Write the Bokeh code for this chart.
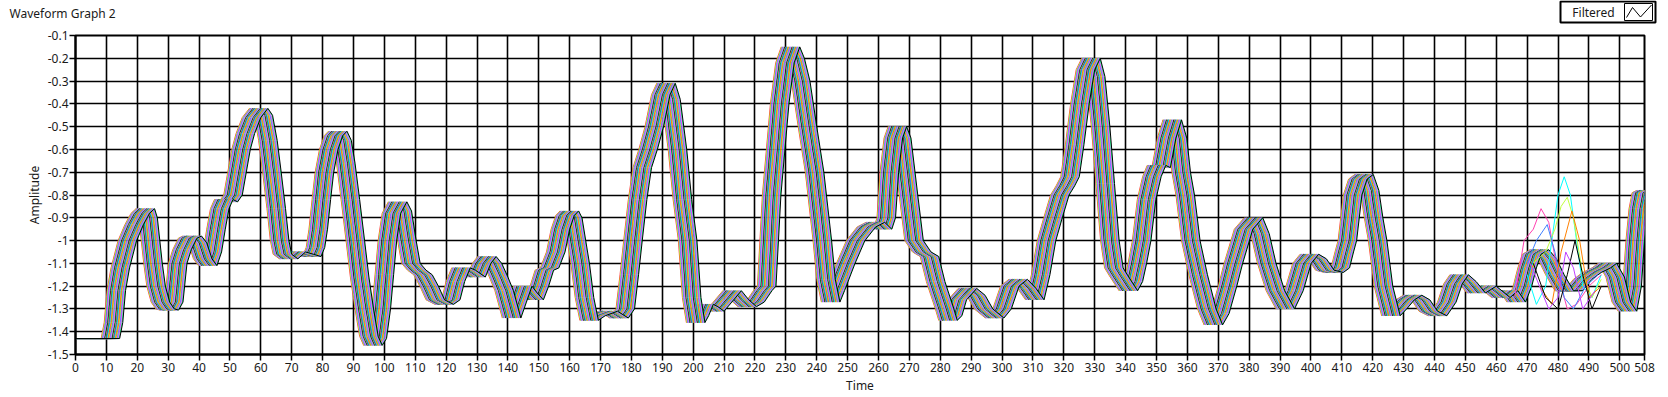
import numpy as np
from bokeh.plotting import figure
from bokeh.models import FixedTicker, CustomJSTickFormatter, Range1d
from bokeh.layouts import column
from bokeh.embed import file_html
from bokeh.resources import INLINE
from bokeh.core.properties import value

TITLE = "Waveform Graph 2"
LEGEND_LABEL = "Filtered"
X_LABEL = "Time"
Y_LABEL = "Amplitude"
X_TICKS = [0, 10, 20, 30, 40, 50, 60, 70, 80, 90, 100, 110, 120, 130, 140, 150, 160, 170, 180, 190,
           200, 210, 220, 230, 240, 250, 260, 270, 280, 290, 300, 310, 320, 330, 340, 350, 360, 370,
           380, 390, 400, 410, 420, 430, 440, 450, 460, 470, 480, 490, 500, 508]
Y_TICKS = [-1.5, -1.4, -1.3, -1.2, -1.1, -1.0, -0.9, -0.8, -0.7, -0.6, -0.5, -0.4, -0.3, -0.2, -0.1]

# centre of the bundle of filtered traces (time, amplitude)
BASE_T = [0, 11.3, 12.3, 13.2, 14.5, 16.8, 19, 21, 22.6, 23.5, 24.3, 25.1, 26.1, 27.5, 29, 30.4, 31.8,
          33.1, 34.5, 36.3, 37.8, 39.5, 41.2, 42.8, 44.3, 45.5, 46.7, 48, 49.5, 51, 52.3, 53.6, 55, 57,
          59.3, 60.8, 62.3, 63.6, 65, 66.1, 67, 69, 71.5, 74, 76.5, 77.7, 78.6, 79.6, 80.6, 82, 83.5,
          84.9, 86.3, 87.5, 89, 90.6, 92, 93.5, 95, 96.3, 97.7, 99, 100, 101, 102.3, 104.3, 105.8,
          107.3, 108.6, 110.5, 112.5, 114.5, 116.5, 119.4, 121.5, 123, 124.8, 126.5, 129.7, 131.5,
          133.2, 135, 137, 138.8, 141.2, 143, 144.8, 146.5, 148.5, 150.2, 151.8, 153.5, 155.5, 157,
          158.5, 159.9, 161, 162.2, 163.4, 164.8, 166.3, 168.5, 172.5, 176, 178, 179.3, 180.5, 182,
          183.5, 185.4, 187.4, 189.5, 191.2, 192.8, 194.9, 196.5, 198.2, 199.5, 200.8, 202, 203.5,
          205, 207, 209.5, 212.6, 215, 217.5, 220, 222.5, 223.8, 224.6, 225.4, 226.7, 228, 229.7,
          231.5, 233, 234.8, 237, 239.3, 241.8, 243, 244.5, 246, 249.4, 252.6, 256.1, 259, 261.3,
          262.5, 263.5, 264.8, 266.1, 267.5, 269.7, 271.5, 274, 276.5, 278.5, 281.4, 282.5, 284,
          285.5, 288.8, 291.5, 294, 297.6, 300, 302.5, 305.2, 308, 310.6, 312.5, 314.4, 316.5, 318.7,
          320.5, 322, 323.5, 325.2, 327, 328.8, 330.3, 331.9, 333.4, 334.9, 336.2, 338, 340.9, 342.5,
          343.8, 345.2, 346.8, 348.5, 350, 351.5, 353.3, 355.1, 356.8, 358, 359.3, 361.1, 363.5,
          366.3, 368.4, 370.5, 373, 374.9, 378.2, 381.4, 383.5, 385.7, 388.5, 391.7, 394.5, 397.1,
          399.5, 402, 404.5, 407.5, 409.5, 410.8, 411.8, 413.5, 415.2, 417.2, 419, 420.3, 421.6,
          423.5, 425.9, 428, 430.5, 432.9, 435.5, 438, 441, 444, 446, 448, 450.5, 453.5, 457, 461.5,
          464, 466.5, 468.5, 470, 471.5, 474, 476.5, 479, 482, 485, 488, 491, 494, 496, 498.5, 500.5,
          502.5, 504, 505, 506, 507, 508.5, 511]
BASE_V = [-1.43, -1.43, -1.36, -1.22, -1.12, -1.0, -0.93, -0.88, -0.86, -0.9, -1.0, -1.1, -1.2, -1.27,
          -1.3, -1.305, -1.27, -1.1, -1.04, -0.99, -0.98, -1.01, -1.08, -1.11, -1.05, -0.95, -0.86,
          -0.82, -0.83, -0.8, -0.7, -0.6, -0.53, -0.46, -0.42, -0.45, -0.56, -0.7, -0.86, -1.0, -1.06,
          -1.08, -1.05, -1.06, -1.07, -1.03, -0.95, -0.82, -0.7, -0.6, -0.54, -0.52, -0.56, -0.66,
          -0.82, -1.0, -1.16, -1.3, -1.42, -1.46, -1.43, -1.3, -1.15, -1.0, -0.88, -0.83, -0.87, -1.0,
          -1.1, -1.13, -1.15, -1.2, -1.26, -1.28, -1.26, -1.18, -1.12, -1.13, -1.16, -1.1, -1.07,
          -1.1, -1.16, -1.22, -1.34, -1.27, -1.2, -1.23, -1.26, -1.2, -1.13, -1.12, -1.05, -0.95,
          -0.89, -0.87, -0.9, -1.0, -1.1, -1.25, -1.35, -1.33, -1.31, -1.34, -1.3, -1.15, -1.0, -0.82,
          -0.68, -0.6, -0.5, -0.36, -0.31, -0.38, -0.6, -0.82, -1.0, -1.25, -1.36, -1.33, -1.28,
          -1.29, -1.31, -1.27, -1.22, -1.26, -1.29, -1.27, -1.22, -1.2, -1.0, -0.8, -0.6, -0.4,
          -0.22, -0.15, -0.2, -0.3, -0.5, -0.7, -1.0, -1.17, -1.27, -1.22, -1.1, -1.0, -0.94, -0.92,
          -0.95, -0.9, -0.7, -0.55, -0.5, -0.55, -0.8, -1.0, -1.05, -1.07, -1.18, -1.3, -1.35, -1.33,
          -1.26, -1.21, -1.24, -1.3, -1.34, -1.3, -1.2, -1.17, -1.21, -1.26, -1.15, -1.0, -0.9, -0.8,
          -0.76, -0.72, -0.58, -0.4, -0.25, -0.2, -0.28, -0.5, -0.75, -1.0, -1.12, -1.16, -1.22,
          -1.18, -1.1, -1.0, -0.82, -0.72, -0.67, -0.68, -0.55, -0.47, -0.55, -0.7, -0.8, -1.0,
          -1.15, -1.3, -1.37, -1.32, -1.2, -1.1, -0.95, -0.9, -0.97, -1.1, -1.22, -1.3, -1.22, -1.1,
          -1.06, -1.08, -1.13, -1.14, -1.12, -1.05, -1.0, -0.8, -0.73, -0.71, -0.78, -0.9, -1.0, -1.2,
          -1.33, -1.3, -1.26, -1.24, -1.26, -1.31, -1.33, -1.27, -1.19, -1.15, -1.18, -1.23, -1.2,
          -1.25, -1.22, -1.27, -1.2, -1.12, -1.06, -1.04, -1.08, -1.15, -1.22, -1.22, -1.17, -1.14,
          -1.12, -1.1, -1.16, -1.27, -1.31, -1.2, -1.0, -0.86, -0.79, -0.78, -0.82]

# time offset of each trace relative to the bundle centre
SHIFTS = [-3.0, -2.8, -2.6, -2.4, -2.2, -2.0, -1.8, -1.6, -1.4, -1.2, -1.0, -0.8, -0.6, -0.4, -0.2, 0.0,
          0.2, 0.4, 0.6, 0.8, 1.0, 1.2, 1.4, 1.6, 1.8, 2.0, 2.2, 2.4, 2.6, 2.8, 3.0]
# colour of each trace, in the order of SHIFTS (cycled)
COLORS = ["#ff40b0", "#00e000", "#4040ff", "#00e8ff", "#ffa500", "#ff4040", "#b0ff20",
          "#40a0ff", "#c040ff", "#ff60ff", "#20ff90", "#000000"]
COLOR_START = 5  # first trace uses COLORS[(0 + 5) % 12]; the last one ends on black

# traces that break away from the bundle around t = 470..495
OUT_T = [
    [470, 473, 476, 478, 480, 482, 484, 486, 488, 491, 494],
    [466, 469, 472, 474.5, 477, 480, 483, 486, 490, 494],
    [472, 476, 479, 481, 483, 485, 488, 491, 494],
    [470, 473, 476.5, 479, 482, 485, 489, 493],
    [474, 478, 481, 484.5, 487, 490, 494],
    [472, 476, 480, 483, 485.5, 488, 491, 494],
    [471, 474, 477, 480, 482.5, 485, 488, 492],
]
OUT_V = [
    [-1.15, -1.28, -1.2, -1.0, -0.8, -0.72, -0.8, -1.0, -1.2, -1.25, -1.15],
    [-1.25, -1.0, -0.95, -0.86, -0.92, -1.15, -1.3, -1.28, -1.2, -1.15],
    [-1.1, -1.05, -0.95, -0.85, -0.81, -0.9, -1.15, -1.25, -1.17],
    [-1.1, -1.0, -0.93, -1.05, -1.25, -1.3, -1.2, -1.15],
    [-1.2, -1.28, -1.05, -0.87, -1.0, -1.25, -1.2],
    [-1.1, -1.25, -1.3, -1.15, -1.0, -1.15, -1.3, -1.2],
    [-1.1, -1.2, -1.3, -1.25, -1.05, -1.12, -1.3, -1.22],
]
OUT_COLORS = ["#00ffff", "#ff40b0", "#c0ff40", "#4080ff", "#ff8000", "#000000", "#c040ff"]

FONT = "Noto Sans"
W = 1668
TOP_H = 24
MAIN_H = 397 - TOP_H

# ---------- header strip (title + legend) ----------
top = figure(width=W, height=TOP_H, x_range=Range1d(0, W), y_range=Range1d(TOP_H, 0),
             output_backend="svg", toolbar_location=None,
             x_axis_location=None, y_axis_location=None, frame_align=False,
             min_border=0, min_border_left=0, min_border_right=0,
             min_border_top=0, min_border_bottom=0)
top.grid.visible = False
top.outline_line_color = None
top.background_fill_color = "white"
top.border_fill_color = "white"
top.text(x=[9], y=[13], text=[TITLE], text_font=value(FONT), text_font_size="12px",
         text_baseline="middle", text_align="left", text_color="#1a1a1a")
top.quad(left=[1560], right=[1655], top=[1], bottom=[22], fill_color="white",
         line_color="black", line_width=2)
top.text(x=[1593], y=[11.5], text=[LEGEND_LABEL], text_font=value(FONT), text_font_size="12px",
         text_baseline="middle", text_align="center", text_color="#1a1a1a")
top.quad(left=[1624], right=[1652], top=[3], bottom=[20], fill_color="white",
         line_color="black", line_width=1)
top.line(x=[1626, 1632, 1640, 1651], y=[17, 7, 16.5, 4.5], line_color="black", line_width=1)

# ---------- main graph ----------
p = figure(width=W, height=MAIN_H, x_range=Range1d(0, 508), y_range=Range1d(-1.5, -0.1),
           output_backend="svg", toolbar_location=None, frame_align=False,
           min_border_left=75, min_border_right=24, min_border_top=11, min_border_bottom=43)
p.background_fill_color = "white"
p.border_fill_color = "white"
p.outline_line_color = "black"
p.outline_line_width = 2

p.xaxis.ticker = FixedTicker(ticks=X_TICKS)
p.yaxis.ticker = FixedTicker(ticks=Y_TICKS)
p.yaxis.formatter = CustomJSTickFormatter(code="""
const s = tick.toFixed(1);
return s === "-1.0" ? "-1" : s;
""")
for ax in (p.xaxis[0], p.yaxis[0]):
    ax.major_tick_in = 0
    ax.major_tick_out = 6
    ax.minor_tick_line_color = None
    ax.major_tick_line_color = "black"
    ax.major_tick_line_width = 1.5
    ax.axis_line_color = "black"
    ax.axis_line_width = 2
    ax.major_label_text_font = FONT
    ax.major_label_text_font_size = "12px"
    ax.major_label_text_color = "#1a1a1a"
    ax.axis_label_text_font = FONT
    ax.axis_label_text_font_size = "12px"
    ax.axis_label_text_font_style = "normal"
    ax.axis_label_text_color = "#1a1a1a"
p.xaxis.axis_label = X_LABEL
p.yaxis.axis_label = Y_LABEL
p.xaxis.major_label_standoff = 2
p.yaxis.major_label_standoff = 1
p.xaxis.axis_label_standoff = 2
p.yaxis.axis_label_standoff = 2

p.xgrid.ticker = FixedTicker(ticks=X_TICKS)
p.ygrid.ticker = FixedTicker(ticks=Y_TICKS)
for g in (p.xgrid[0], p.ygrid[0]):
    g.grid_line_color = "black"
    g.grid_line_width = 1.6
    g.grid_line_alpha = 1.0

base_t = np.array(BASE_T, dtype=float)
base_v = np.array(BASE_V, dtype=float)
for i, s in enumerate(SHIFTS):
    xs = base_t + s
    xs[0] = 0.0
    p.line(x=xs, y=base_v, line_color=COLORS[(i + COLOR_START) % len(COLORS)], line_width=1)

for t, v, c in zip(OUT_T, OUT_V, OUT_COLORS):
    p.line(x=t, y=v, line_color=c, line_width=1)

layout = column(top, p, spacing=0)
open("out.html", "w").write(file_html(layout, INLINE))
